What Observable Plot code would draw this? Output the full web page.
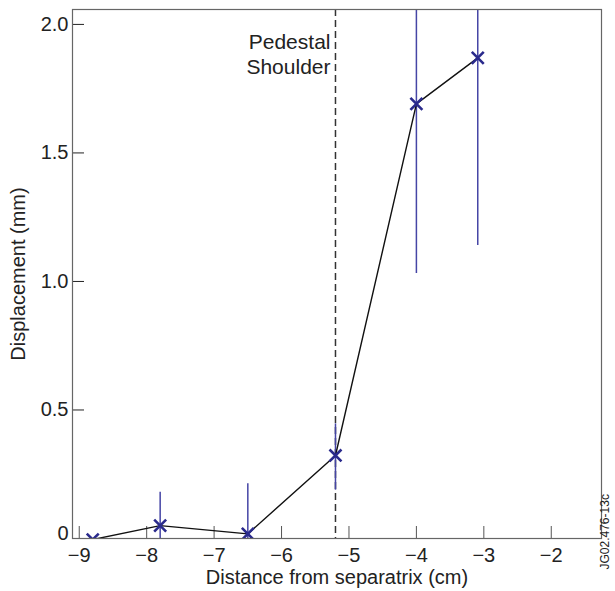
<!DOCTYPE html>
<html>
<head>
<meta charset="utf-8">
<script src="https://cdn.jsdelivr.net/npm/d3@7"></script>
<script src="https://cdn.jsdelivr.net/npm/@observablehq/plot@0.6"></script>
<style>
  html, body { margin: 0; padding: 0; background: #fff; }
</style>
</head>
<body>
<div id="chart"></div>
<script>
// Data
const distance = [-8.8, -7.8, -6.5, -5.2, -4.0, -3.09];
const displacement = [-0.004, 0.05, 0.018, 0.323, 1.691, 1.870];
const errLow = [0, 0.13, 0.195, 0.135, 0.66, 0.73];
const errHigh = [0, 0.13, 0.195, 0.123, 0.66, 0.73];
const shoulderX = [-5.2];
const shoulderLabel = ["Pedestal\nShoulder"];
const xTicks = [-9, -8, -7, -6, -5, -4, -3, -2];
const yTicks = [0.5, 1.0, 1.5, 2.0];
const yZeroTick = [0];
const figId = ["JG02.476-13c"];

const data = distance.map((d, i) => ({
  x: d, y: displacement[i], lo: displacement[i] - errLow[i], hi: displacement[i] + errHigh[i]
}));

const chart = Plot.plot({
  width: 615,
  height: 591,
  marginLeft: 72,
  marginRight: 14,
  marginTop: 9,
  marginBottom: 53,
  style: { fontFamily: "Liberation Sans, Arial, sans-serif", fontSize: "20px", color: "#222", background: "#fff" },
  x: { domain: [-9.1, -1.255] },
  y: { domain: [0, 2.058] },
  marks: [
    Plot.axisX({ ticks: xTicks, tickSize: -12, tickPadding: 21, stroke: "#555", label: "Distance from separatrix (cm)", labelAnchor: "center", labelArrow: "none", labelOffset: 45, fontSize: 20 }),
    Plot.axisY({ ticks: yTicks, tickSize: -12, tickPadding: 16, stroke: "#222", tickFormat: d => d.toFixed(1), label: "Displacement (mm)", labelAnchor: "center", labelArrow: "none", labelOffset: 62, fontSize: 20 }),
    Plot.axisY({ ticks: yZeroTick, tickSize: 0, tickPadding: 4, tickFormat: d => "0", label: null, fontSize: 20, dy: -5 }),
    Plot.ruleX(shoulderX, { x: d => d, stroke: "#333", strokeWidth: 1.5, strokeDasharray: "7,4" }),
    Plot.text(shoulderLabel, { x: shoulderX[0], text: d => d, frameAnchor: "top", lineAnchor: "top", textAnchor: "end", dx: -5, dy: 22, lineHeight: 1.17, fontSize: 21, fill: "#222" }),
    Plot.ruleX(data, { x: "x", y1: "lo", y2: "hi", stroke: "#4545a5", strokeWidth: 1.5, clip: true }),
    Plot.line(data, { x: "x", y: "y", stroke: "#111", strokeWidth: 1.4, clip: true }),
    Plot.dot(data, { x: "x", y: "y", symbol: "times", r: 5.5, stroke: "#2a2a8c", strokeWidth: 2.6, clip: true }),
    Plot.frame({ stroke: "#666", strokeWidth: 1.2 }),
    Plot.text(figId, { text: d => d, frameAnchor: "bottom-right", rotate: -90, textAnchor: "start", dx: 7, dy: 31, fontSize: 12, fill: "#222" })
  ]
});
document.getElementById("chart").appendChild(chart);
</script>
</body>
</html>
